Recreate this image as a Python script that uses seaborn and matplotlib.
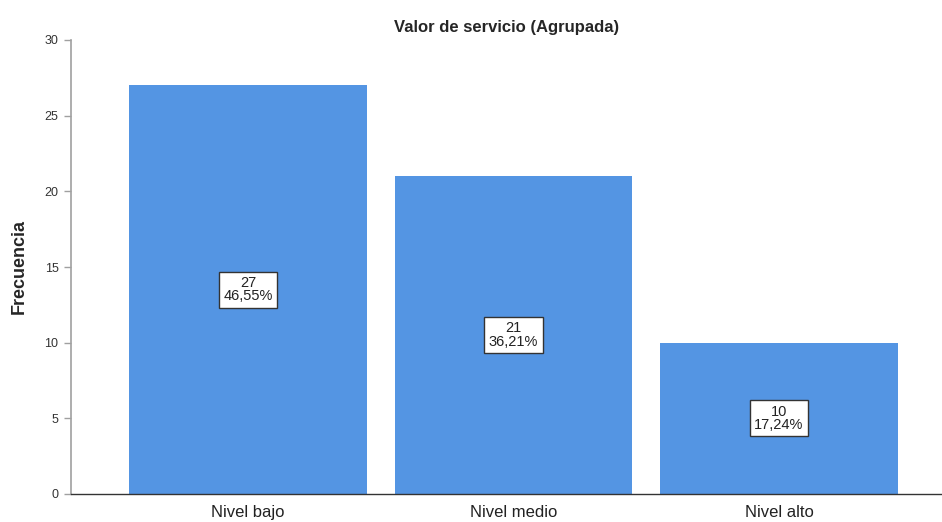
import matplotlib
matplotlib.use("Agg")
import matplotlib.pyplot as plt
import seaborn as sns
import pandas as pd

categories = ["Nivel bajo", "Nivel medio", "Nivel alto"]
counts = [27, 21, 10]
percent_labels = ["46,55%", "36,21%", "17,24%"]

df = pd.DataFrame({"cat": categories, "n": counts})

sns.set_style("white")
plt.rcParams["font.family"] = ["Liberation Sans", "DejaVu Sans"]

fig = plt.figure(figsize=(9.42, 5.22), dpi=100)
ax = fig.add_axes([71 / 942, 28 / 522, 1 - 71 / 942, (494 - 40) / 522])

sns.barplot(data=df, x="cat", y="n", color="#5495E3", saturation=1,
            width=0.896, ax=ax, edgecolor="none")

ax.set_xlim(-0.667, 2.614)
ax.set_ylim(0, 30)
ax.set_yticks([0, 5, 10, 15, 20, 25, 30])
ax.tick_params(axis="y", direction="out", length=5, width=1, color="#a0a0a0",
               labelsize=9, labelcolor="#333333", pad=4, left=True)
ax.tick_params(axis="x", length=0, labelsize=12, labelcolor="#222222", pad=8)

for s in ["top", "right"]:
    ax.spines[s].set_visible(False)
ax.spines["left"].set_color("#a0a0a0")
ax.spines["left"].set_linewidth(1.2)
ax.spines["bottom"].set_color("#333333")
ax.spines["bottom"].set_linewidth(1)

ax.set_xlabel("")
ax.set_ylabel("Frecuencia", fontsize=13, fontweight="bold", labelpad=12)
ax.set_title("Valor de servicio (Agrupada)", fontsize=12, fontweight="bold", pad=6)

for i, (c, p) in enumerate(zip(counts, percent_labels)):
    ax.text(i, c / 2, f"{c}\n{p}", ha="center", va="center", fontsize=10.5,
            color="#222222", linespacing=0.95,
            bbox=dict(boxstyle="square,pad=0.3", facecolor="white",
                      edgecolor="#333333", linewidth=1))

fig.savefig("out.png", dpi=100)
